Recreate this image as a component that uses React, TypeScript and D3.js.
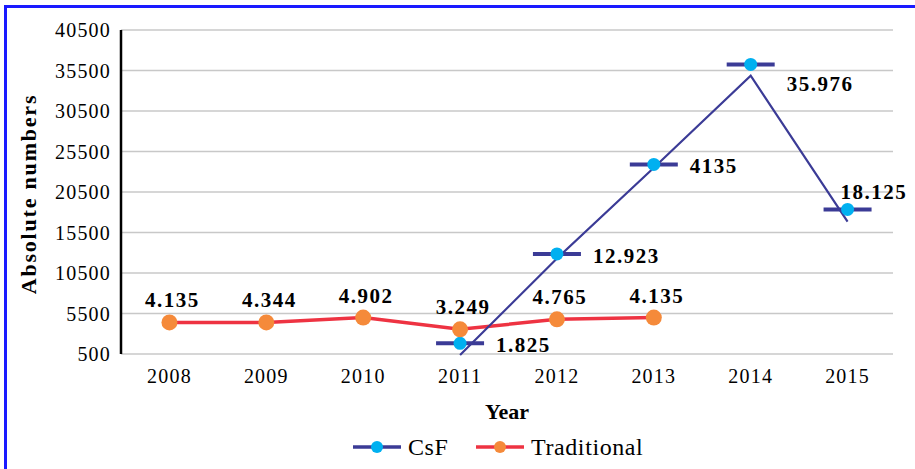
import { useEffect, useRef } from "react";
import * as d3 from "d3";

const years = ["2008", "2009", "2010", "2011", "2012", "2013", "2014", "2015"];
const yTicks = [500, 5500, 10500, 15500, 20500, 25500, 30500, 35500, 40500];

// Traditional series (2008-2013)
const tradYears = ["2008", "2009", "2010", "2011", "2012", "2013"];
const tradValues = [4400, 4400, 5000, 3550, 4780, 5000];
const tradLabels = ["4.135", "4.344", "4.902", "3.249", "4.765", "4.135"];

// CsF series (2011-2015): markers, the drawn line and labels
const csfYears = ["2011", "2012", "2013", "2014", "2015"];
const csfValues = [1820, 12850, 23900, 36250, 18350];
const csfLine = [380, 12300, 23500, 34850, 16850];
const csfLabels = ["1.825", "12.923", "4135", "35.976", "18.125"];
const csfLabelPos = ["right", "right", "right", "below", "above"];

const W = 915;
const H = 469;

const App = () => {
  const ref = useRef<SVGSVGElement>(null);

  useEffect(() => {
    const svg = d3.select(ref.current);
    svg.selectAll("*").remove();

    const serif = "'Liberation Serif', 'Times New Roman', serif";

    const x = d3.scaleBand().domain(years).range([121, 896]);
    const cx = (d: string) => (x(d) as number) + x.bandwidth() / 2;
    const y = d3.scaleLinear().domain([500, 40500]).range([354, 30]);

    // frame
    svg
      .append("path")
      .attr("d", `M5.5,${H + 5} V6.5 H${W + 5}`)
      .attr("fill", "none")
      .attr("stroke", "#1a1aff")
      .attr("stroke-width", 3);

    // grid
    svg
      .append("g")
      .selectAll("line")
      .data(yTicks)
      .join("line")
      .attr("x1", 121)
      .attr("x2", 893)
      .attr("y1", (d) => y(d))
      .attr("y2", (d) => y(d))
      .attr("stroke", "#c8c8c8")
      .attr("stroke-width", 1.5);

    // y axis line
    svg
      .append("line")
      .attr("x1", 121)
      .attr("x2", 121)
      .attr("y1", y(40500))
      .attr("y2", y(500))
      .attr("stroke", "#000")
      .attr("stroke-width", 2.5);

    // y tick labels
    svg
      .append("g")
      .selectAll("text")
      .data(yTicks)
      .join("text")
      .attr("x", 111)
      .attr("y", (d) => y(d) + 7)
      .attr("text-anchor", "end")
      .attr("font-family", serif)
      .attr("font-size", 20)
      .attr("letter-spacing", 1.2)
      .text((d) => String(d));

    // x tick labels
    svg
      .append("g")
      .selectAll("text")
      .data(years)
      .join("text")
      .attr("x", (d) => cx(d))
      .attr("y", 383)
      .attr("text-anchor", "middle")
      .attr("font-family", serif)
      .attr("font-size", 20)
      .attr("letter-spacing", 1.2)
      .text((d) => d);

    // axis titles
    svg
      .append("text")
      .attr("x", 507)
      .attr("y", 419)
      .attr("text-anchor", "middle")
      .attr("font-family", serif)
      .attr("font-weight", "bold")
      .attr("font-size", 22)
      .text("Year");

    svg
      .append("text")
      .attr("transform", `translate(36,194) rotate(-90)`)
      .attr("text-anchor", "middle")
      .attr("font-family", serif)
      .attr("font-weight", "bold")
      .attr("font-size", 22)
      .attr("letter-spacing", 1.8)
      .text("Absolute numbers");

    // Traditional line
    const line = d3
      .line<[string, number]>()
      .x((d) => cx(d[0]))
      .y((d) => y(d[1]));

    svg
      .append("path")
      .datum(tradYears.map((yr, i) => [yr, tradValues[i]] as [string, number]))
      .attr("d", line)
      .attr("fill", "none")
      .attr("stroke", "#ee3342")
      .attr("stroke-width", 3.5);

    // CsF line
    svg
      .append("path")
      .datum(csfYears.map((yr, i) => [yr, csfLine[i]] as [string, number]))
      .attr("d", line)
      .attr("fill", "none")
      .attr("stroke", "#3b3b96")
      .attr("stroke-width", 2.2);

    // CsF dash markers
    svg
      .append("g")
      .selectAll("line")
      .data(csfYears)
      .join("line")
      .attr("x1", (d) => cx(d) - 24)
      .attr("x2", (d) => cx(d) + 24)
      .attr("y1", (d, i) => y(csfValues[i]))
      .attr("y2", (d, i) => y(csfValues[i]))
      .attr("stroke", "#3b3b96")
      .attr("stroke-width", 4);

    // CsF dots
    svg
      .append("g")
      .selectAll("circle")
      .data(csfYears)
      .join("circle")
      .attr("cx", (d) => cx(d))
      .attr("cy", (d, i) => y(csfValues[i]))
      .attr("r", 6.5)
      .attr("fill", "#00b0f0");

    // Traditional dots
    svg
      .append("g")
      .selectAll("circle")
      .data(tradYears)
      .join("circle")
      .attr("cx", (d) => cx(d))
      .attr("cy", (d, i) => y(tradValues[i]))
      .attr("r", 8)
      .attr("fill", "#f58a3a");

    // Traditional labels
    svg
      .append("g")
      .selectAll("text")
      .data(tradYears)
      .join("text")
      .attr("x", (d) => cx(d) + 3)
      .attr("y", (d, i) => y(tradValues[i]) - 15)
      .attr("text-anchor", "middle")
      .attr("font-family", serif)
      .attr("font-weight", "bold")
      .attr("font-size", 21)
      .attr("letter-spacing", 1.5)
      .text((d, i) => tradLabels[i]);

    // CsF labels
    svg
      .append("g")
      .selectAll("text")
      .data(csfYears)
      .join("text")
      .attr("x", (d, i) => {
        const p = csfLabelPos[i];
        return p === "above" ? cx(d) - 7 : cx(d) + 36;
      })
      .attr("y", (d, i) => {
        const p = csfLabelPos[i];
        const v = y(csfValues[i]);
        if (p === "above") return v - 10;
        if (p === "below") return v + 27;
        return v + 9;
      })
      .attr("font-family", serif)
      .attr("font-weight", "bold")
      .attr("font-size", 21)
      .attr("letter-spacing", 1.5)
      .text((d, i) => csfLabels[i]);

    // legend
    const legend = [
      { name: "CsF", line: "#3b3b96", dot: "#00b0f0", x: 353 },
      { name: "Traditional", line: "#ee3342", dot: "#f58a3a", x: 476 },
    ];
    const lg = svg
      .append("g")
      .selectAll("g")
      .data(legend)
      .join("g")
      .attr("transform", (d) => `translate(${d.x},447)`);
    lg.append("line")
      .attr("x1", 0)
      .attr("x2", 48)
      .attr("stroke", (d) => d.line)
      .attr("stroke-width", 3.5);
    lg.append("circle")
      .attr("cx", 24)
      .attr("r", 6)
      .attr("fill", (d) => d.dot);
    lg.append("text")
      .attr("x", 55)
      .attr("y", 8)
      .attr("font-family", serif)
      .attr("font-size", 24)
      .attr("letter-spacing", 0.6)
      .text((d) => d.name);
  }, []);

  return (
    <svg
      ref={ref}
      width={W}
      height={H}
      style={{ position: "absolute", left: 0, top: 0, background: "#fff" }}
    />
  );
};

export default App;
